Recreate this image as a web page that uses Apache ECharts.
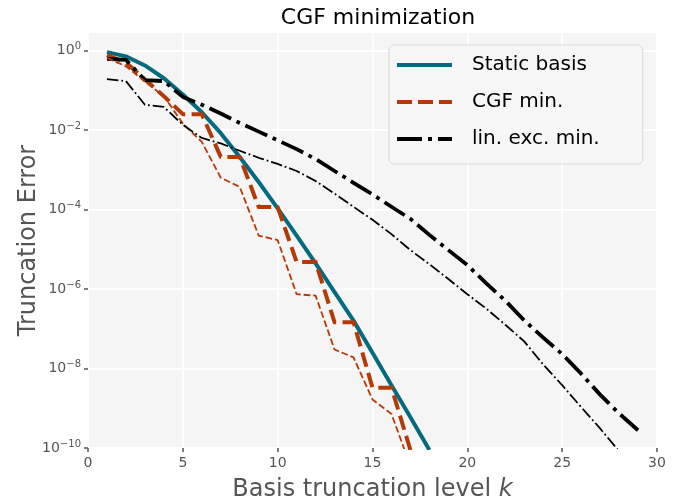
<!DOCTYPE html>
<html>
<head>
<meta charset="utf-8">
<title>CGF minimization</title>
<script src="https://cdn.jsdelivr.net/npm/echarts@6/dist/echarts.min.js"></script>
<style>
  html, body { margin: 0; padding: 0; background: #ffffff; }
  #chart { width: 687px; height: 500px; }
</style>
</head>
<body>
<div id="chart"></div>
<script>
// Basis truncation levels k
const levels = [1, 2, 3, 4, 5, 6, 7, 8, 9, 10, 11, 12, 13, 14, 15,
                16, 17, 18, 19, 20, 21, 22, 23, 24, 25, 26, 27, 28, 29];

// Truncation error, static basis (k = 1..18)
const staticBasis = [9.1e-1, 7.1e-1, 4.2e-1, 2.0e-1, 7.8e-2, 2.8e-2, 8.3e-3, 2.1e-3, 4.9e-4,
                     1.07e-4, 2.2e-5, 4.4e-6, 8.3e-7, 1.6e-7, 2.5e-8, 3.8e-9, 5.9e-10, 8.9e-11];

// CGF minimization, main run (k = 1..17)
const cgfMin = [7.6e-1, 5.0e-1, 1.86e-1, 7.1e-2, 2.5e-2, 2.5e-2, 2.1e-3, 2.1e-3, 1.15e-4,
                1.15e-4, 4.8e-6, 4.8e-6, 1.45e-7, 1.45e-7, 3.3e-9, 3.3e-9, 8.9e-11];

// CGF minimization, second run (k = 1..17)
const cgfMinAlt = [6.5e-1, 4.0e-1, 1.66e-1, 7.1e-2, 1.45e-2, 5.0e-3, 6.3e-4, 3.7e-4, 2.2e-5,
                   1.7e-5, 7.4e-7, 6.8e-7, 3.0e-8, 1.9e-8, 1.66e-9, 7.2e-10, 3.5e-11];

// Linear excitation minimization, main run (k = 1..29)
const linExcMin = [6.2e-1, 5.8e-1, 1.8e-1, 1.7e-1, 6.8e-2, 4.3e-2, 2.6e-2, 1.5e-2, 9.1e-3,
                   5.5e-3, 3.3e-3, 1.86e-3, 9.3e-4, 4.7e-4, 2.4e-4, 1.17e-4, 5.8e-5, 2.3e-5,
                   9.5e-6, 4.0e-6, 1.38e-6, 5.1e-7, 1.62e-7, 6.0e-8, 2.3e-8, 7.4e-9, 2.2e-9,
                   7.4e-10, 2.8e-10];

// Linear excitation minimization, second run (k = 1..28)
const linExcMinAlt = [1.9e-1, 1.7e-1, 4.3e-2, 3.8e-2, 1.35e-2, 6.3e-3, 4.6e-3, 3.0e-3, 2.0e-3,
                      1.4e-3, 9.3e-4, 5.2e-4, 2.5e-4, 1.17e-4, 5.5e-5, 2.4e-5, 9.5e-6, 4.2e-6,
                      1.78e-6, 7.4e-7, 3.2e-7, 1.26e-7, 4.8e-8, 1.26e-8, 3.8e-9, 1.07e-9,
                      3.1e-10, 8.3e-11];

// Axis ticks
const xTicks = [0, 5, 10, 15, 20, 25, 30];
const yTicks = [1e-10, 1e-8, 1e-6, 1e-4, 1e-2, 1];

const legendNames = ['Static basis', 'CGF min.', 'lin. exc. min.'];

const FONT = 'DejaVu Sans';
const TEAL = '#036a80';
const RUST = '#b33a06';
const INK = '#000000';
const GREY = '#555555';

// Legend line samples (55 x 4 boxes): solid, dashed, dash-dot
const ICON_SOLID = 'path://M0,0H55V4H0Z';
const ICON_DASH = 'path://M0,0H15V4H0Z M21,0H36V4H21Z M42,0H55V4H42Z';
const ICON_DASHDOT = 'path://M0,0H25V4H0Z M31,0H35V4H31Z M41,0H55V4H41Z';

function pairs(values) {
  return values.map(function (v, i) { return [levels[i], v]; });
}

function lineSeries(name, values, color, width, dash, z) {
  return {
    name: name,
    type: 'line',
    data: pairs(values),
    symbol: 'none',
    showSymbol: false,
    clip: true,
    z: z,
    lineStyle: { color: color, width: width, type: dash, cap: 'butt', join: 'round' },
    itemStyle: { color: color },
    emphasis: { disabled: true }
  };
}

const chart = echarts.init(document.getElementById('chart'), null, { renderer: 'canvas' });

chart.setOption({
  animation: false,
  backgroundColor: '#ffffff',
  textStyle: { fontFamily: FONT },
  title: {
    text: 'CGF minimization',
    left: 373,
    top: 2,
    textAlign: 'center',
    textStyle: { fontFamily: FONT, fontSize: 22, fontWeight: 'normal', color: INK }
  },
  grid: {
    left: 88, right: 30, top: 33, bottom: 52,
    show: true, backgroundColor: '#f5f5f5', borderWidth: 0,
    containLabel: false,
    outerBoundsMode: 'none'
  },
  legend: {
    data: [
      { name: legendNames[0], icon: ICON_SOLID },
      { name: legendNames[1], icon: ICON_DASH },
      { name: legendNames[2], icon: ICON_DASHDOT }
    ],
    orient: 'vertical',
    left: 389,
    top: 45,
    padding: [8, 43, 13, 8],
    itemWidth: 55,
    itemHeight: 4,
    itemGap: 13,
    backgroundColor: 'rgba(246,246,246,0.85)',
    borderColor: '#d8d8d8',
    borderWidth: 1,
    borderRadius: 5,
    selectedMode: false,
    itemStyle: { borderWidth: 0 },
    textStyle: { fontFamily: FONT, fontSize: 20, color: INK, lineHeight: 24, padding: [0, 0, 0, 15] }
  },
  xAxis: {
    type: 'value',
    min: xTicks[0],
    max: xTicks[xTicks.length - 1],
    interval: 5,
    name: 'Basis truncation level {i|k}',
    nameLocation: 'middle',
    nameMoveOverlap: false,
    nameGap: 30,
    nameTextStyle: {
      fontFamily: FONT, fontSize: 24, color: GREY,
      rich: { i: { fontFamily: FONT, fontSize: 24, color: GREY, fontStyle: 'italic' } }
    },
    axisLine: { show: false },
    axisTick: { show: true, length: 4, lineStyle: { color: GREY, width: 1.5 } },
    axisLabel: { fontFamily: FONT, fontSize: 14, color: GREY, margin: 8 },
    splitLine: { show: true, lineStyle: { color: '#ffffff', width: 1.8 } }
  },
  yAxis: {
    type: 'log',
    logBase: 10,
    min: yTicks[0],
    max: Math.pow(10, 0.44),
    interval: 2,
    name: 'Truncation Error',
    nameLocation: 'middle',
    nameMoveOverlap: false,
    nameGap: 47,
    nameTextStyle: { fontFamily: FONT, fontSize: 24, color: GREY },
    axisLine: { show: false },
    axisTick: { show: true, length: 4, customValues: yTicks, lineStyle: { color: GREY, width: 1.5 } },
    axisLabel: {
      customValues: yTicks,
      margin: 7,
      formatter: function (v) {
        const e = Math.round(Math.log10(v));
        const s = e < 0 ? '\u2212' + (-e) : String(e);
        return '{b|10}{s|' + s + '}';
      },
      rich: {
        b: { fontFamily: FONT, fontSize: 14, color: GREY },
        s: { fontFamily: FONT, fontSize: 10, color: GREY, padding: [0, 0, 8, 0] }
      }
    },
    splitLine: { show: true, lineStyle: { color: '#ffffff', width: 1.8 } }
  },
  series: [
    lineSeries('Static basis', staticBasis, TEAL, 4, 'solid', 2),
    lineSeries('CGF min.', cgfMin, RUST, 4, [14.8, 6.4], 3),
    lineSeries('lin. exc. min.', linExcMin, INK, 3.8, [24, 6, 3.8, 6], 4),
    lineSeries('CGF min. (run 2)', cgfMinAlt, RUST, 1.8, [6.7, 2.9], 5),
    lineSeries('lin. exc. min. (run 2)', linExcMinAlt, INK, 1.8, [11.5, 2.9, 1.8, 2.9], 6)
  ]
});
</script>
</body>
</html>
